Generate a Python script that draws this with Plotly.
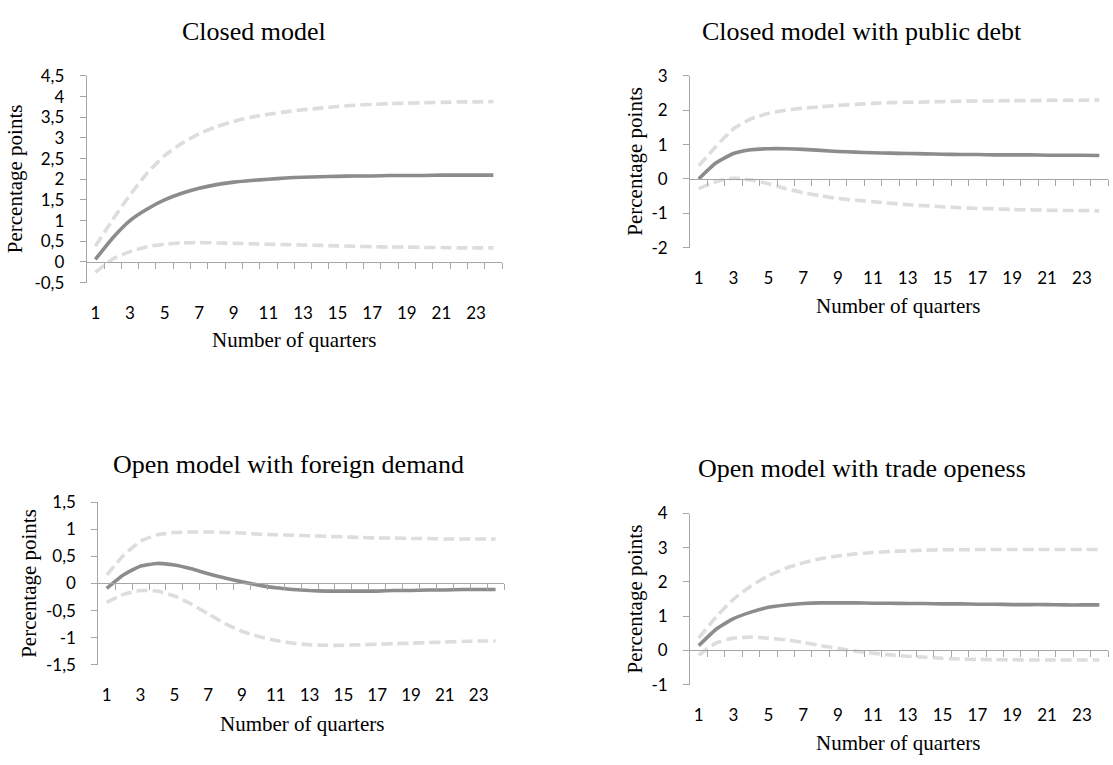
import plotly.graph_objects as go

# ---------------- data ----------------
quarters = list(range(1, 25))
x_tick_vals = [1, 3, 5, 7, 9, 11, 13, 15, 17, 19, 21, 23]
x_tick_text = ["1", "3", "5", "7", "9", "11", "13", "15", "17", "19", "21", "23"]

panel_titles = [
    "Closed model",
    "Closed model with public debt",
    "Open model with foreign demand",
    "Open model with trade openess",
]
x_title = "Number of quarters"
y_title = "Percentage points"

closed_irf = [0.06, 0.58, 1.0, 1.28, 1.5, 1.66, 1.78, 1.87, 1.93, 1.97, 2.0, 2.03,
              2.05, 2.06, 2.07, 2.08, 2.08, 2.09, 2.09, 2.09, 2.10, 2.10, 2.10, 2.10]
closed_upper = [0.38, 1.02, 1.62, 2.15, 2.57, 2.87, 3.1, 3.27, 3.4, 3.5, 3.57, 3.63,
                3.68, 3.72, 3.76, 3.79, 3.81, 3.83, 3.84, 3.85, 3.86, 3.87, 3.87, 3.88]
closed_lower = [-0.25, 0.07, 0.25, 0.37, 0.43, 0.46, 0.47, 0.46, 0.45, 0.44, 0.43, 0.42,
                0.41, 0.40, 0.39, 0.38, 0.37, 0.36, 0.36, 0.35, 0.35, 0.34, 0.34, 0.34]

debt_irf = [0.0, 0.47, 0.74, 0.85, 0.88, 0.88, 0.86, 0.83, 0.80, 0.78, 0.76, 0.75,
            0.74, 0.73, 0.72, 0.71, 0.71, 0.70, 0.70, 0.70, 0.69, 0.69, 0.69, 0.68]
debt_upper = [0.38, 0.95, 1.46, 1.75, 1.91, 2.0, 2.06, 2.1, 2.14, 2.17, 2.2, 2.22,
              2.23, 2.24, 2.25, 2.26, 2.27, 2.27, 2.28, 2.28, 2.29, 2.29, 2.29, 2.30]
debt_lower = [-0.28, -0.08, 0.02, -0.03, -0.14, -0.28, -0.40, -0.49, -0.57, -0.62, -0.66, -0.71,
              -0.75, -0.78, -0.81, -0.84, -0.86, -0.87, -0.89, -0.90, -0.91, -0.92, -0.92, -0.93]

foreign_irf = [-0.09, 0.16, 0.32, 0.37, 0.34, 0.27, 0.18, 0.10, 0.03, -0.03, -0.08, -0.11,
               -0.13, -0.14, -0.14, -0.14, -0.14, -0.13, -0.13, -0.12, -0.12, -0.11, -0.11, -0.11]
foreign_upper = [0.16, 0.52, 0.78, 0.9, 0.94, 0.95, 0.95, 0.94, 0.93, 0.91, 0.90, 0.89,
                 0.88, 0.87, 0.86, 0.85, 0.84, 0.84, 0.83, 0.83, 0.82, 0.82, 0.82, 0.82]
foreign_lower = [-0.35, -0.2, -0.13, -0.14, -0.23, -0.38, -0.56, -0.74, -0.88, -0.98, -1.05, -1.10,
                 -1.13, -1.14, -1.14, -1.13, -1.12, -1.11, -1.10, -1.09, -1.08, -1.07, -1.06, -1.06]

trade_irf = [0.14, 0.62, 0.93, 1.12, 1.26, 1.33, 1.37, 1.39, 1.39, 1.39, 1.38, 1.38,
             1.37, 1.37, 1.36, 1.36, 1.35, 1.35, 1.34, 1.34, 1.34, 1.33, 1.33, 1.33]
trade_upper = [0.36, 0.98, 1.5, 1.88, 2.18, 2.4, 2.56, 2.68, 2.76, 2.82, 2.86, 2.89,
               2.91, 2.93, 2.94, 2.94, 2.95, 2.95, 2.95, 2.95, 2.95, 2.95, 2.95, 2.95]
trade_lower = [-0.14, 0.22, 0.36, 0.39, 0.36, 0.31, 0.24, 0.14, 0.06, -0.02, -0.08, -0.13,
               -0.17, -0.20, -0.23, -0.25, -0.26, -0.27, -0.27, -0.28, -0.28, -0.28, -0.28, -0.28]

p1_yticks = [-0.5, 0, 0.5, 1, 1.5, 2, 2.5, 3, 3.5, 4, 4.5]
p1_ylabels = ["-0,5", "0", "0,5", "1", "1,5", "2", "2,5", "3", "3,5", "4", "4,5"]
p2_yticks = [-2, -1, 0, 1, 2, 3]
p2_ylabels = ["-2", "-1", "0", "1", "2", "3"]
p3_yticks = [-1.5, -1, -0.5, 0, 0.5, 1, 1.5]
p3_ylabels = ["-1,5", "-1", "-0,5", "0", "0,5", "1", "1,5"]
p4_yticks = [-1, 0, 1, 2, 3, 4]
p4_ylabels = ["-1", "0", "1", "2", "3", "4"]

panels = [
    dict(irf=closed_irf, up=closed_upper, lo=closed_lower, yt=p1_yticks, yl=p1_ylabels),
    dict(irf=debt_irf, up=debt_upper, lo=debt_lower, yt=p2_yticks, yl=p2_ylabels),
    dict(irf=foreign_irf, up=foreign_upper, lo=foreign_lower, yt=p3_yticks, yl=p3_ylabels),
    dict(irf=trade_irf, up=trade_upper, lo=trade_lower, yt=p4_yticks, yl=p4_ylabels),
]

# ---------------- layout geometry (pixels) ----------------
W, H = 1113, 765
# left, right, top, bottom of each plot area
boxes = [
    (86.7, 502.0, 66.7, 279.3),
    (690.0, 1108.0, 66.7, 243.3),
    (98.3, 504.0, 505.0, 672.3),
    (690.0, 1108.0, 516.7, 692.7),
]
title_pos = [(254, 21), (862, 21), (289, 466), (862, 470)]
xtitle_pos = [(294, 338), (898, 303), (302, 733), (898, 753)]
ytitle_pos = [(15, 173), (635, 155), (29, 589), (635, 605)]

AXIS_COLOR = "#a6a6a6"
SOLID_COLOR = "#8c8c8c"
DASH_COLOR = "#dddddd"
SERIF = "Liberation Serif, Times New Roman, serif"
SANS = "Lato, Carlito, Calibri, sans-serif"


def px_x(p):
    return p / W


def px_y(p):
    return 1 - p / H


fig = go.Figure()
layout = dict(
    width=W, height=H, autosize=False,
    margin=dict(l=0, r=0, t=0, b=0),
    paper_bgcolor="white", plot_bgcolor="white",
    showlegend=False,
    annotations=[],
)

for i, (pan, box) in enumerate(zip(panels, boxes)):
    n = i + 1
    sfx = "" if n == 1 else str(n)
    zx = 4 + n  # overlay axis id for the zero line
    l, r, t, b = box
    ymin, ymax = pan["yt"][0], pan["yt"][-1]
    zero_px = t + (ymax - 0) / (ymax - ymin) * (b - t)

    for key, color, dash in (("up", DASH_COLOR, "11px,5px"),
                             ("lo", DASH_COLOR, "11px,5px"),
                             ("irf", SOLID_COLOR, "solid")):
        fig.add_trace(go.Scatter(
            x=quarters, y=pan[key], mode="lines",
            line=dict(color=color, width=3.6, dash=dash, shape="spline", smoothing=0.5),
            xaxis="x" + sfx, yaxis="y" + sfx, hoverinfo="skip",
        ))
    # empty trace to register the zero-line axis
    fig.add_trace(go.Scatter(x=[], y=[], xaxis="x%d" % zx, yaxis="y" + sfx,
                             hoverinfo="skip"))

    layout["xaxis" + sfx] = dict(
        domain=[px_x(l), px_x(r)], anchor="y" + sfx, range=[0.5, 24.5],
        tickmode="array", tickvals=x_tick_vals, ticktext=x_tick_text,
        showline=False, showgrid=False, zeroline=False, ticks="",
        ticklabelstandoff=18,
        tickfont=dict(family=SANS, size=17, color="black"),
    )
    layout["xaxis%d" % zx] = dict(
        domain=[px_x(l), px_x(r)], overlaying="x" + sfx, anchor="free",
        position=px_y(zero_px), range=[0.5, 24.5],
        tickmode="array", tickvals=[q + 0.5 for q in quarters],
        showticklabels=False, showline=True, linecolor=AXIS_COLOR, linewidth=1,
        ticks="outside", ticklen=6, tickcolor=AXIS_COLOR, tickwidth=1,
        showgrid=False, zeroline=False,
    )
    layout["yaxis" + sfx] = dict(
        domain=[px_y(b), px_y(t)], anchor="x" + sfx, range=[ymin, ymax],
        tickmode="array", tickvals=pan["yt"], ticktext=pan["yl"],
        showline=True, linecolor=AXIS_COLOR, linewidth=1,
        ticks="outside", ticklen=6, tickcolor=AXIS_COLOR, tickwidth=1,
        ticklabelstandoff=12,
        showgrid=False, zeroline=False,
        tickfont=dict(family=SANS, size=17, color="black"),
    )

    tx, ty = title_pos[i]
    layout["annotations"].append(dict(
        text=panel_titles[i], x=px_x(tx), y=px_y(ty), xref="paper", yref="paper",
        xanchor="center", yanchor="middle", showarrow=False,
        font=dict(family=SERIF, size=26, color="black")))
    ax, ay = xtitle_pos[i]
    layout["annotations"].append(dict(
        text=x_title, x=px_x(ax), y=px_y(ay), xref="paper", yref="paper",
        xanchor="center", yanchor="middle", showarrow=False,
        font=dict(family=SERIF, size=21, color="black")))
    yx, yy = ytitle_pos[i]
    layout["annotations"].append(dict(
        text=y_title, x=px_x(yx), y=px_y(yy), xref="paper", yref="paper",
        xanchor="center", yanchor="middle", showarrow=False, textangle=-90,
        font=dict(family=SERIF, size=21, color="black")))

fig.update_layout(**layout)
fig.write_html("out.html",
               config={"displayModeBar": False, "staticPlot": True},
               post_script="document.body.style.margin='0';document.body.style.overflow='hidden';")
